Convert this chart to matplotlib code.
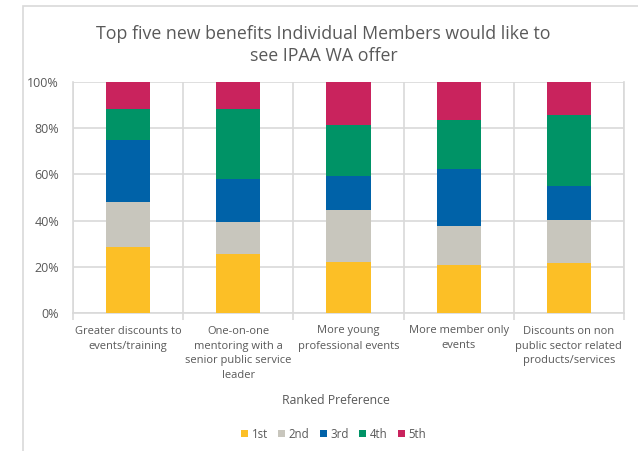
import matplotlib.pyplot as plt
import numpy as np
from matplotlib.patches import Rectangle
from matplotlib.ticker import FuncFormatter, MultipleLocator

plt.rcParams["font.family"] = ["Open Sans", "DejaVu Sans"]

categories = [
    "Greater discounts to\nevents/training",
    "One-on-one\nmentoring with a\nsenior public service\nleader",
    "More young\nprofessional events",
    "More member only\nevents",
    "Discounts on non\npublic sector related\nproducts/services",
]
ranks = ["1st", "2nd", "3rd", "4th", "5th"]
first = [28.7, 25.5, 22.0, 20.8, 21.5]
second = [19.3, 14.0, 22.5, 16.8, 18.8]
third = [26.9, 18.6, 14.7, 24.8, 14.6]
fourth = [13.4, 30.2, 22.2, 21.0, 30.8]
fifth = [11.7, 11.7, 18.6, 16.6, 14.3]
colors = ["#fcbf26", "#c8c6bd", "#0062a8", "#009366", "#c9235d"]

text_col = "#595959"
grid_col = "#d9d9d9"

fig = plt.figure(figsize=(6.38, 4.51), dpi=100)
ax = fig.add_axes([73 / 638, 1 - 313 / 451, 551 / 638, 231 / 451])

# chart border (cropped on the right/bottom)
fig.patches.append(Rectangle((23 / 638, -0.1), 1.2, 1 - 6 / 451 + 0.1,
                             transform=fig.transFigure, fill=False,
                             edgecolor="#d9d9d9", lw=1.2))

x = np.arange(len(categories))
bottom = np.zeros(len(categories))
for name, vals, c in zip(ranks, [first, second, third, fourth, fifth], colors):
    ax.bar(x, vals, 0.4, bottom=bottom, color=c, label=name, zorder=3)
    bottom += np.array(vals)

ax.set_xlim(-0.5, len(categories) - 0.5)
ax.set_ylim(0, 100)
ax.yaxis.set_major_locator(MultipleLocator(20))
ax.yaxis.set_major_formatter(FuncFormatter(lambda v, p: f"{v:.0f}%"))
ax.set_xticks(x)
ax.set_xticklabels(categories, fontsize=8, color=text_col, linespacing=1.5)
ax.set_xticks(np.arange(-0.5, len(categories)), minor=True)
ax.tick_params(axis="x", which="major", length=0, pad=9)
ax.tick_params(axis="x", which="minor", length=5, color=grid_col, width=1.2)
ax.tick_params(axis="y", length=0, labelsize=9, labelcolor=text_col, pad=10)
ax.grid(True, axis="y", color=grid_col, lw=1.2, zorder=0)
ax.grid(True, axis="x", which="minor", color=grid_col, lw=1.2, zorder=0)
for s in ax.spines.values():
    s.set_color(grid_col)
    s.set_linewidth(1.2)
ax.spines["top"].set_visible(False)

fig.text(0.507, 1 - 45 / 451, "Top five new benefits Individual Members would like to\nsee IPAA WA offer",
         ha="center", va="center", fontsize=12.8, color=text_col, linespacing=1.3)
fig.text(0.526, 1 - 401 / 451, "Ranked Preference", ha="center", va="center",
         fontsize=8.8, color=text_col)

handles, labels = ax.get_legend_handles_labels()
fig.legend(handles, labels, loc="center", bbox_to_anchor=(0.523, 1 - 434 / 451),
           ncol=5, frameon=False, fontsize=8.3, labelcolor=text_col,
           handlelength=0.6, handleheight=0.6, handletextpad=0.3, columnspacing=0.9)

fig.savefig("out.png", dpi=100)
